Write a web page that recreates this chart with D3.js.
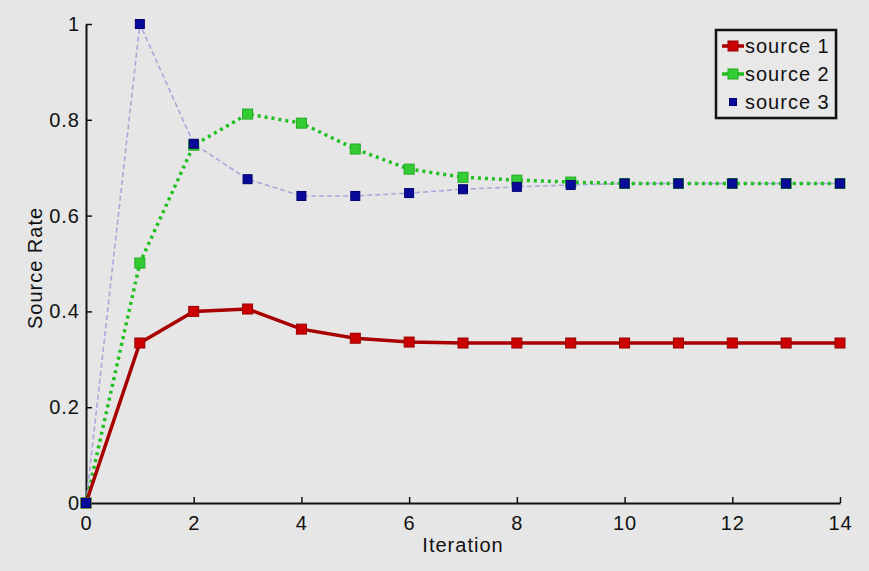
<!DOCTYPE html>
<html>
<head>
<meta charset="utf-8">
<script src="https://d3js.org/d3.v7.min.js"></script>
<style>
  body { margin: 0; background: #e6e6e6; }
  text { font-family: "Liberation Sans", Arial, sans-serif; fill: #111; letter-spacing: 1px; }
</style>
</head>
<body>
<script>
// iteration index
var iterations = [0, 1, 2, 3, 4, 5, 6, 7, 8, 9, 10, 11, 12, 13, 14];
var source1 = [0, 0.334, 0.40, 0.405, 0.363, 0.344, 0.336, 0.334, 0.334, 0.334, 0.334, 0.334, 0.334, 0.334, 0.334];
var source2 = [0, 0.501, 0.747, 0.812, 0.793, 0.739, 0.697, 0.680, 0.674, 0.670, 0.667, 0.667, 0.667, 0.667, 0.667];
var source3 = [0, 1.0, 0.75, 0.676, 0.641, 0.641, 0.647, 0.655, 0.660, 0.664, 0.667, 0.667, 0.667, 0.667, 0.667];
var seriesNames = ["source 1", "source 2", "source 3"];
var xTicks = [0, 2, 4, 6, 8, 10, 12, 14];
var yTicks = [0, 0.2, 0.4, 0.6, 0.8, 1];

var width = 869, height = 571;
var margin = {left: 86, right: 29, top: 24, bottom: 68};

var svg = d3.select("body").append("svg")
    .attr("width", width)
    .attr("height", height);

svg.append("rect").attr("width", width).attr("height", height).attr("fill", "#e6e6e6");

var x = d3.scaleLinear().domain([0, 14]).range([margin.left, width - margin.right]);
var y = d3.scaleLinear().domain([0, 1]).range([height - margin.bottom, margin.top]);

// axes, ticks pointing inward
var xAxis = svg.append("g")
    .attr("transform", "translate(0," + y(0) + ")")
    .call(d3.axisBottom(x).tickValues(xTicks).tickSizeInner(-6).tickSizeOuter(0).tickPadding(10));
var yAxis = svg.append("g")
    .attr("transform", "translate(" + x(0) + ",0)")
    .call(d3.axisLeft(y).tickValues(yTicks).tickSizeInner(-6).tickSizeOuter(0).tickPadding(6)
      .tickFormat(function (d) { return d3.format("~g")(d); }));

[xAxis, yAxis].forEach(function (a) {
  a.select(".domain").attr("stroke", "#111").attr("stroke-width", 2);
  a.selectAll(".tick line").attr("stroke", "#111").attr("stroke-width", 1.5);
  a.selectAll(".tick text").style("font-size", "20px").attr("fill", "#111");
});
xAxis.selectAll(".tick text").attr("dy", "0.85em");

svg.append("text")
    .attr("x", 463).attr("y", 552)
    .attr("text-anchor", "middle")
    .style("font-size", "20px")
    .text("Iteration");

svg.append("text")
    .attr("transform", "translate(42,268) rotate(-90)")
    .attr("text-anchor", "middle")
    .style("font-size", "20px")
    .text("Source Rate");

var series = [
  {name: seriesNames[0], values: source1, line: "#a80000", width: 3.5, dash: null, fill: "#cc0000", stroke: "#990000", size: 10},
  {name: seriesNames[1], values: source2, line: "#1fbf1f", width: 3.5, dash: "3,4", fill: "#33cc33", stroke: "#22aa22", size: 10},
  {name: seriesNames[2], values: source3, line: "#a8a8dc", width: 1.6, dash: "5,3", fill: "#0a0a9a", stroke: "#000070", size: 9}
];

var line = d3.line()
    .x(function (d, i) { return x(iterations[i]); })
    .y(function (d) { return y(d); });

[series[2], series[1], series[0]].forEach(function (s) {
  svg.append("path")
      .datum(s.values)
      .attr("fill", "none")
      .attr("stroke", s.line)
      .attr("stroke-width", s.width)
      .attr("stroke-dasharray", s.dash)
      .attr("d", line);
});
series.forEach(function (s) {
  svg.append("g").selectAll("rect")
      .data(s.values)
      .enter().append("rect")
      .attr("x", function (d, i) { return x(iterations[i]) - s.size / 2; })
      .attr("y", function (d) { return y(d) - s.size / 2; })
      .attr("width", s.size).attr("height", s.size)
      .attr("fill", s.fill)
      .attr("stroke", s.stroke)
      .attr("stroke-width", 1);
});

// legend
var lg = svg.append("g").attr("transform", "translate(716,30)");
lg.append("rect").attr("x", 2).attr("y", 2).attr("width", 120).attr("height", 88)
    .attr("fill", "#bbb").attr("opacity", 0.5);
lg.append("rect").attr("width", 120).attr("height", 88)
    .attr("fill", "#e8e8e8").attr("stroke", "#111").attr("stroke-width", 2.5);
series.forEach(function (s, i) {
  var yy = 16 + i * 28;
  var sz = i === 2 ? 7 : s.size;
  if (i < 2) {
    lg.append("line").attr("x1", 6).attr("x2", 28).attr("y1", yy).attr("y2", yy)
        .attr("stroke", s.line).attr("stroke-width", s.width);
  }
  lg.append("rect").attr("x", 17 - sz / 2).attr("y", yy - sz / 2)
      .attr("width", sz).attr("height", sz)
      .attr("fill", s.fill).attr("stroke", s.stroke);
  lg.append("text").attr("x", 29).attr("y", yy + 7)
      .style("font-size", "20px")
      .text(s.name);
});
</script>
</body>
</html>
